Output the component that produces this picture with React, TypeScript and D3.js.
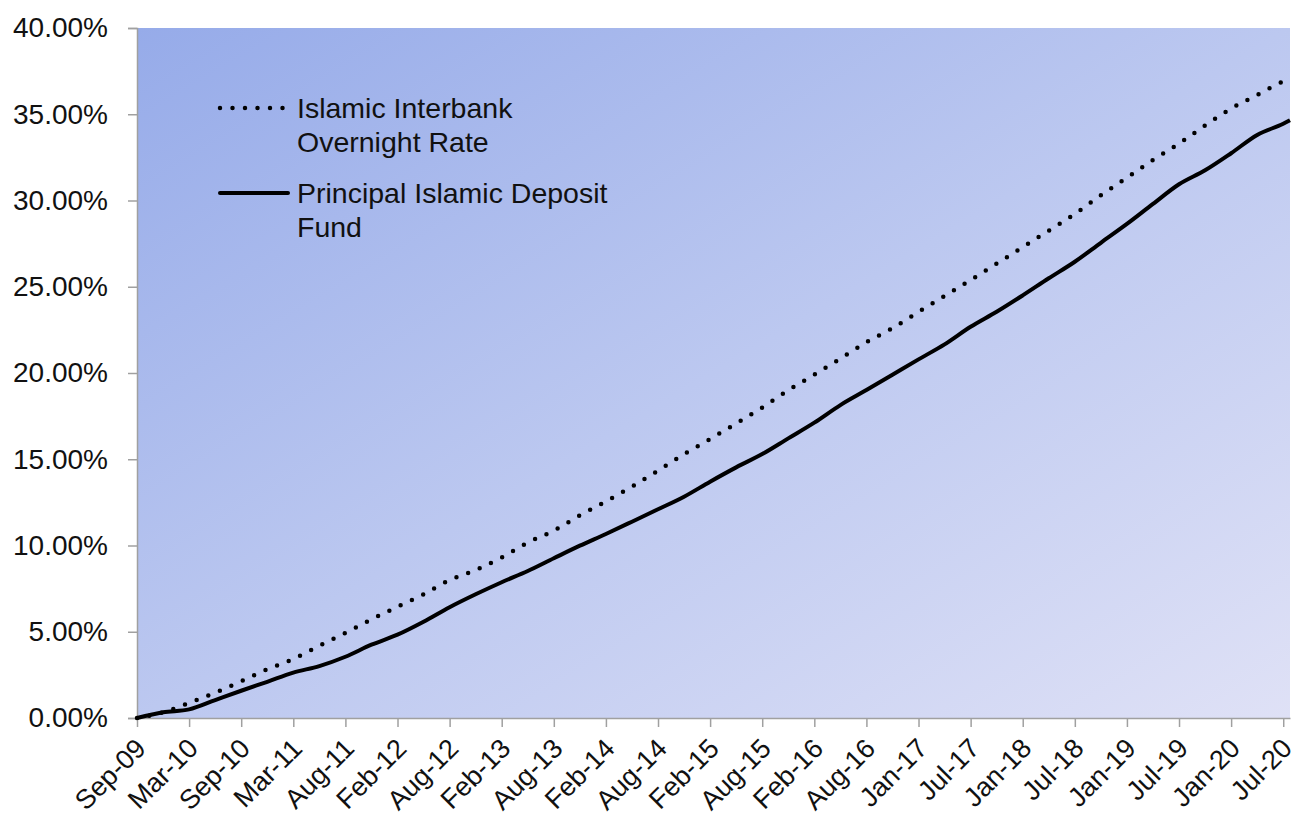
import { useEffect, useRef } from 'react';
import * as d3 from 'd3';

// month labels shown on the category axis (one per tick)
const tickLabels = [
  'Sep-09', 'Mar-10', 'Sep-10', 'Mar-11', 'Aug-11', 'Feb-12', 'Aug-12', 'Feb-13',
  'Aug-13', 'Feb-14', 'Aug-14', 'Feb-15', 'Aug-15', 'Feb-16', 'Aug-16', 'Jan-17',
  'Jul-17', 'Jan-18', 'Jul-18', 'Jan-19', 'Jul-19', 'Jan-20', 'Jul-20',
];

// cumulative return (%) sampled every half tick, last point = latest date
const iiorValues = [
  0, 0.33, 0.88, 1.47, 2.13, 2.82, 3.42, 4.19, 4.93, 5.72, 6.45, 7.17, 8.0, 8.58, 9.31,
  10.17, 10.86, 11.75, 12.56, 13.41, 14.34, 15.3, 16.17, 17.08, 18.0, 19.0, 19.9, 20.83,
  21.78, 22.6, 23.54, 24.46, 25.39, 26.34, 27.3, 28.25, 29.22, 30.3, 31.32, 32.35, 33.3,
  34.35, 35.33, 36.12, 36.9, 37.05,
];
const fundValues = [
  0, 0.33, 0.5, 1.04, 1.58, 2.1, 2.63, 3.01, 3.55, 4.25, 4.83, 5.58, 6.42, 7.17, 7.87,
  8.52, 9.26, 9.99, 10.67, 11.38, 12.1, 12.83, 13.7, 14.53, 15.3, 16.21, 17.12, 18.14,
  19.01, 19.9, 20.79, 21.66, 22.68, 23.55, 24.5, 25.49, 26.45, 27.55, 28.64, 29.8, 30.94,
  31.75, 32.74, 33.8, 34.45, 34.65,
];
const lastIndex = 22.13; // latest point sits a little past the Jul-20 tick
const yTicks = [0, 5, 10, 15, 20, 25, 30, 35, 40];

const legendItems = [
  { lines: ['Islamic Interbank', 'Overnight Rate'], dotted: true },
  { lines: ['Principal Islamic Deposit', 'Fund'], dotted: false },
];

export default function App() {
  const svgRef = useRef<SVGSVGElement>(null);

  useEffect(() => {
    if (!svgRef.current) return;
    document.body.style.margin = '0';

    const svg = d3.select(svgRef.current);
    svg.selectAll('*').remove();

    const width = 1297;
    const height = 819;
    const margin = { top: 28, right: 7, bottom: 101, left: 137 };
    const font = '"Liberation Sans", Arial, sans-serif';

    svg.attr('width', width).attr('height', height);

    const xScale = d3
      .scaleLinear()
      .domain([0, lastIndex])
      .range([margin.left, width - margin.right]);
    const yScale = d3
      .scaleLinear()
      .domain([0, 40])
      .range([height - margin.bottom, margin.top]);

    const idx = (i: number, n: number) => (i === n - 1 ? lastIndex : i / 2);

    // plot background gradient (bounding box units, so it runs corner to corner)
    const defs = svg.append('defs');
    const grad = defs
      .append('linearGradient')
      .attr('id', 'bg')
      .attr('x1', 0)
      .attr('y1', 0)
      .attr('x2', 1)
      .attr('y2', 1);
    grad.append('stop').attr('offset', '0%').attr('stop-color', '#96abe9');
    grad.append('stop').attr('offset', '50%').attr('stop-color', '#bcc8f0');
    grad.append('stop').attr('offset', '100%').attr('stop-color', '#dfe1f6');

    svg
      .append('rect')
      .attr('x', margin.left)
      .attr('y', margin.top)
      .attr('width', width - margin.left - margin.right)
      .attr('height', height - margin.top - margin.bottom)
      .attr('fill', 'url(#bg)');

    // y axis
    const yAxis = svg
      .append('g')
      .attr('transform', `translate(${margin.left},0)`)
      .call(
        d3
          .axisLeft(yScale)
          .tickValues(yTicks)
          .tickSize(9)
          .tickPadding(20)
          .tickFormat((d) => `${(+d).toFixed(2)}%`)
      );
    yAxis.select('.domain').attr('stroke', '#a0a0a0').attr('stroke-width', 1.5);
    yAxis.selectAll('line').attr('stroke', '#a0a0a0').attr('stroke-width', 1.5);
    yAxis
      .selectAll('text')
      .style('fill', '#111')
      .style('font-family', font)
      .style('font-size', '28px');

    // x axis
    const xAxis = svg
      .append('g')
      .attr('transform', `translate(0,${height - margin.bottom})`)
      .call(
        d3
          .axisBottom(xScale)
          .tickValues(d3.range(tickLabels.length))
          .tickSize(9)
          .tickSizeOuter(0)
          .tickFormat((d) => tickLabels[+d])
      );
    xAxis.select('.domain').attr('stroke', '#a0a0a0').attr('stroke-width', 1.5);
    xAxis.selectAll('line').attr('stroke', '#a0a0a0').attr('stroke-width', 1.5);
    xAxis
      .selectAll('text')
      .style('fill', '#111')
      .style('font-family', font)
      .style('font-size', '27px')
      .attr('text-anchor', 'end')
      .attr('dy', null)
      .attr('y', 0)
      .attr('transform', 'translate(10,32) rotate(-45)');

    // series
    const line = d3
      .line<number>()
      .x((d, i) => xScale(idx(i, iiorValues.length)))
      .y((d) => yScale(d))
      .curve(d3.curveMonotoneX);

    svg
      .append('path')
      .datum(iiorValues)
      .attr('fill', 'none')
      .attr('stroke', '#000')
      .attr('stroke-width', 4.5)
      .attr('stroke-linecap', 'round')
      .attr('stroke-dasharray', '0 12.5')
      .attr('d', line);

    svg
      .append('path')
      .datum(fundValues)
      .attr('fill', 'none')
      .attr('stroke', '#000')
      .attr('stroke-width', 4)
      .attr('stroke-linejoin', 'round')
      .attr('d', line);

    // legend
    const legend = svg.append('g').attr('transform', 'translate(218,108)');
    legendItems.forEach((item, i) => {
      const g = legend.append('g').attr('transform', `translate(0,${i * 85})`);
      g.append('line')
        .attr('x1', 2)
        .attr('x2', 70)
        .attr('stroke', '#000')
        .attr('stroke-width', item.dotted ? 4.5 : 4)
        .attr('stroke-linecap', 'round')
        .attr('stroke-dasharray', item.dotted ? '0 12.5' : null);
      item.lines.forEach((t, j) => {
        g.append('text')
          .attr('x', 79)
          .attr('y', 10 + j * 34)
          .style('font-family', font)
          .style('font-size', '28.5px')
          .style('fill', '#111')
          .text(t);
      });
    });
  }, []);

  return <svg ref={svgRef} style={{ display: 'block' }} />;
}
